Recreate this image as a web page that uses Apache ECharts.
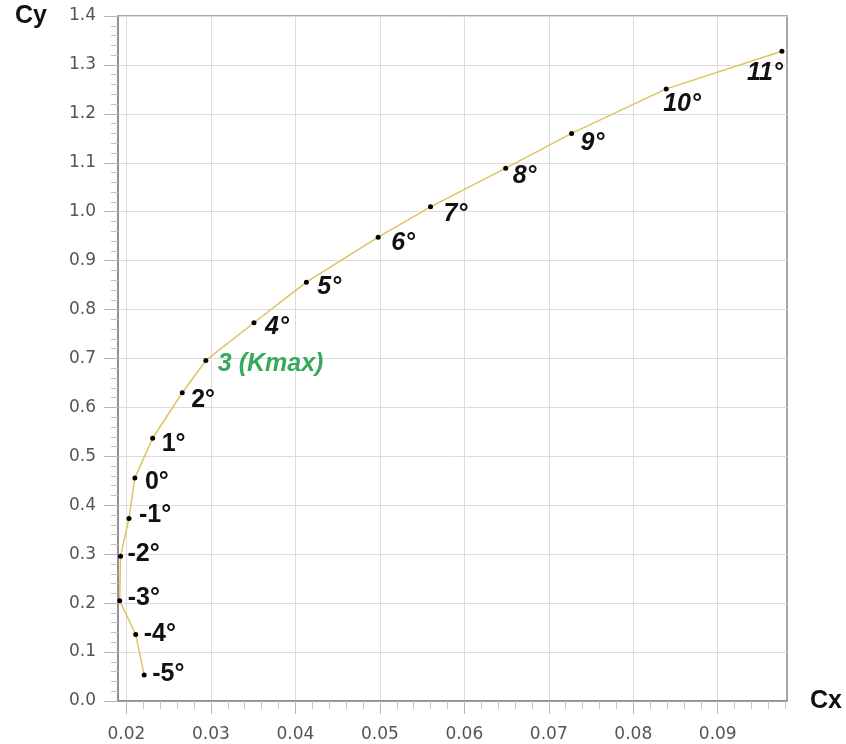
<!DOCTYPE html>
<html>
<head>
<meta charset="utf-8">
<script src="https://cdn.jsdelivr.net/npm/echarts@6/dist/echarts.min.js"></script>
<style>
  html, body { margin: 0; padding: 0; background: #ffffff; }
  #chart { width: 846px; height: 744px; }
</style>
</head>
<body>
<div id="chart"></div>
<script>
// Drag polar: lift coefficient Cy against drag coefficient Cx, one point per angle of attack
const angleLabels = ['-5°', '-4°', '-3°', '-2°', '-1°', '0°', '1°', '2°', '3 (Kmax)', '4°', '5°', '6°', '7°', '8°', '9°', '10°', '11°'];
const cxValues = [0.0221, 0.0211, 0.0192, 0.0193, 0.0203, 0.0210, 0.0231, 0.0266, 0.0294, 0.0351, 0.0413, 0.0498, 0.0560, 0.0649, 0.0727, 0.0839, 0.0976];
const cyValues = [0.053, 0.136, 0.205, 0.296, 0.373, 0.456, 0.537, 0.630, 0.696, 0.773, 0.856, 0.948, 1.010, 1.089, 1.160, 1.251, 1.328];
const xTickValues = [0.02, 0.03, 0.04, 0.05, 0.06, 0.07, 0.08, 0.09];
const kmaxIndex = 8;

// Axis extents
const X_MIN = 0.019, X_MAX = 0.0982;
const Y_MIN = 0, Y_MAX = 1.4;

// Minor ticks on the Cx axis every 0.002 between the labelled values
const xMinorTicks = [];
for (let i = 11; i <= 49; i++) {
  if (i % 5 !== 0) xMinorTicks.push(+(i * 0.002).toFixed(3));
}

// Label placement next to each point, in pixels from the point centre
const labelShift = [[8, -1], [8, 0], [8, -3], [7, -2], [10, -3], [10, 4], [9, 6], [9, 7], [12, 4], [11, 4], [11, 5], [13, 6], [13, 7], [7, 8], [9, 10], [-3, 15], [1, 22]];

const SYMBOL_SIZE = 5;
const lineColor = '#dfc262';
const kmaxColor = '#34aa5a';

const points = cxValues.map((x, i) => {
  const upright = i < kmaxIndex;
  const lastPoint = i === cxValues.length - 1;
  const half = SYMBOL_SIZE / 2;
  return {
    value: [x, cyValues[i]],
    label: {
      show: true,
      formatter: angleLabels[i],
      position: [half + labelShift[i][0], half + labelShift[i][1]],
      align: lastPoint ? 'right' : 'left',
      verticalAlign: 'middle',
      fontFamily: 'Liberation Sans, Arial, sans-serif',
      fontSize: 25,
      fontWeight: 'bold',
      fontStyle: upright ? 'normal' : 'italic',
      color: i === kmaxIndex ? kmaxColor : '#111111'
    }
  };
});

const tickFont = { fontFamily: 'DejaVu Sans, Verdana, sans-serif', fontSize: 17, color: '#555555' };

const chart = echarts.init(document.getElementById('chart'), null, { renderer: 'canvas' });
chart.setOption({
  animation: false,
  backgroundColor: '#ffffff',
  grid: {
    left: 118, right: 59, top: 16, bottom: 43,
    show: true, borderColor: '#8a8a8a', borderWidth: 1.5, backgroundColor: 'transparent'
  },
  xAxis: [
    {
      type: 'value',
      min: X_MIN, max: X_MAX,
      name: 'Cx',
      nameLocation: 'end',
      nameGap: 23,
      nameTextStyle: {
        fontFamily: 'Liberation Sans, Arial, sans-serif', fontSize: 25, fontWeight: 'bold',
        color: '#111111', align: 'left', verticalAlign: 'middle', padding: [64, 0, 0, 0]
      },
      axisLine: { show: true, lineStyle: { color: '#8a8a8a', width: 1.5 } },
      axisTick: { show: true, length: 13, customValues: xTickValues, lineStyle: { color: '#b5b5b5' } },
      axisLabel: { show: true, margin: 25, customValues: xTickValues, formatter: v => v.toFixed(2), ...tickFont },
      splitLine: { show: true, lineStyle: { color: '#dcdcdc', width: 1 } }
    },
    {
      type: 'value',
      min: X_MIN, max: X_MAX,
      position: 'bottom',
      axisLine: { show: false },
      axisTick: { show: true, length: 8, customValues: xMinorTicks, lineStyle: { color: '#c4c4c4' } },
      axisLabel: { show: false },
      splitLine: { show: false }
    }
  ],
  yAxis: {
    type: 'value',
    min: Y_MIN, max: Y_MAX, interval: 0.1,
    name: 'Cy',
    nameLocation: 'end',
    nameGap: 0,
    nameTextStyle: {
      fontFamily: 'Liberation Sans, Arial, sans-serif', fontSize: 25, fontWeight: 'bold',
      color: '#111111', align: 'right', verticalAlign: 'middle', padding: [8, 71, 0, 0]
    },
    axisLine: { show: true, lineStyle: { color: '#8a8a8a', width: 1.5 } },
    axisTick: { show: true, length: 14, lineStyle: { color: '#b5b5b5' } },
    minorTick: { show: true, splitNumber: 5, length: 7, lineStyle: { color: '#c4c4c4' } },
    axisLabel: { show: true, margin: 22, formatter: v => v.toFixed(1), ...tickFont },
    splitLine: { show: true, lineStyle: { color: '#dcdcdc', width: 1 } }
  },
  series: [{
    type: 'line',
    xAxisIndex: 0,
    data: points,
    smooth: false,
    symbol: 'circle',
    symbolSize: SYMBOL_SIZE,
    itemStyle: { color: '#000000' },
    lineStyle: { color: lineColor, width: 1.5 },
    z: 3
  }]
});
</script>
</body>
</html>
